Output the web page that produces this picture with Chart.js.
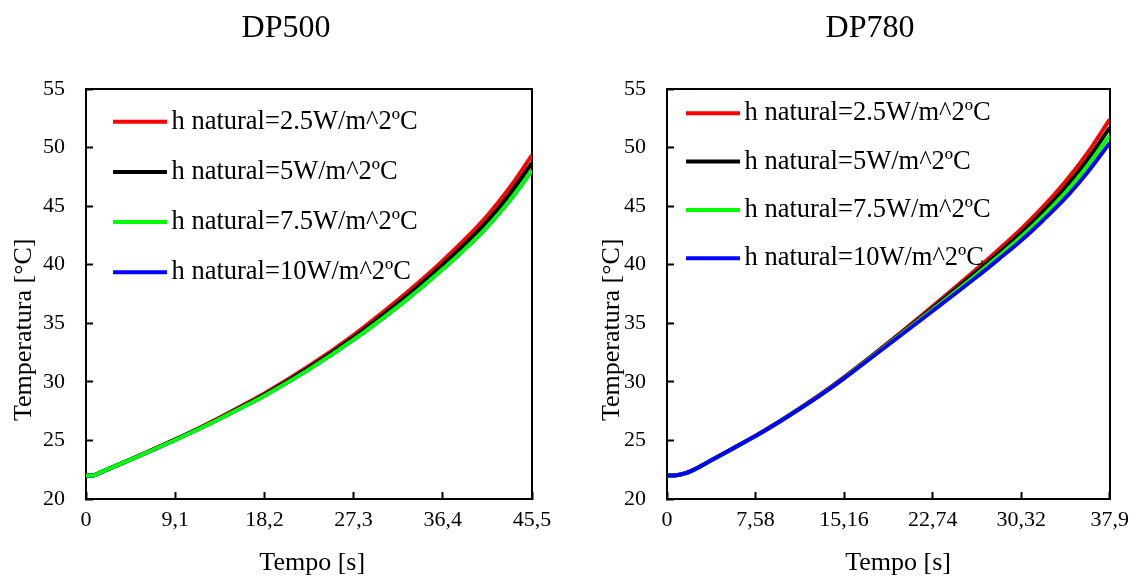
<!DOCTYPE html>
<html>
<head>
<meta charset="utf-8">
<script src="https://cdn.jsdelivr.net/npm/chart.js@4.4.0/dist/chart.umd.min.js"></script>
<style>
html,body{margin:0;padding:0;background:#fff;}
#wrap{position:relative;width:1144px;height:576px;overflow:hidden;background:#fff;}
.box{position:absolute;top:0;height:576px;}
canvas{display:block;}
</style>
</head>
<body>
<div id="wrap">
  <div class="box" style="left:0;width:572px"><canvas id="c1" width="572" height="576"></canvas></div>
  <div class="box" style="left:596px;width:548px"><canvas id="c2" width="548" height="576"></canvas></div>
</div>
<script>
// ---------- data ----------
const seriesLabels = [
  'h natural=2.5W/m^2ºC',
  'h natural=5W/m^2ºC',
  'h natural=7.5W/m^2ºC',
  'h natural=10W/m^2ºC'
];
const seriesColors = ['#ff0000', '#000000', '#00ff00', '#0000ff'];

const yTicks = [20, 25, 30, 35, 40, 45, 50, 55];
const yTickLabels = ['20', '25', '30', '35', '40', '45', '50', '55'];

// DP500
const dp500Time = [0, 0.7, 1.5, 2.5, 4.55, 6.8, 9.1, 11.4, 13.65, 15.9, 18.2, 22.75, 27.3, 31.85, 34.1, 36.4, 38.7, 40.95, 43.2, 45.5];
const dp500H25  = [22.0, 22.0, 22.28, 22.64, 23.38, 24.21, 25.09, 26.00, 26.95, 27.95, 29.00, 31.35, 34.00, 37.00, 38.60, 40.35, 42.20, 44.20, 46.55, 49.35];
const dp500H5   = [22.0, 22.0, 22.28, 22.64, 23.37, 24.20, 25.07, 25.97, 26.90, 27.88, 28.91, 31.21, 33.80, 36.73, 38.29, 39.99, 41.79, 43.73, 46.00, 48.70];
const dp500H75  = [22.0, 22.0, 22.28, 22.64, 23.36, 24.18, 25.04, 25.93, 26.85, 27.81, 28.82, 31.07, 33.60, 36.45, 37.97, 39.63, 41.37, 43.25, 45.45, 48.05];
const dp500H10  = [22.0, 22.0, 22.28, 22.64, 23.36, 24.18, 25.04, 25.93, 26.85, 27.81, 28.82, 31.07, 33.60, 36.45, 37.97, 39.63, 41.37, 43.25, 45.45, 48.05];
const dp500XTicks = [0, 9.1, 18.2, 27.3, 36.4, 45.5];
const dp500XTickLabels = ['0', '9,1', '18,2', '27,3', '36,4', '45,5'];

// DP780
const dp780Time = [0, 0.8, 1.6, 2.5, 3.79, 5.7, 7.58, 9.5, 11.37, 13.3, 15.16, 18.95, 22.74, 26.53, 28.4, 30.32, 32.2, 34.11, 36.0, 37.9];
const dp780H25  = [22.0, 22.02, 22.2, 22.6, 23.3, 24.35, 25.40, 26.55, 27.75, 29.05, 30.40, 33.35, 36.45, 39.65, 41.30, 43.05, 44.95, 47.10, 49.55, 52.40];
const dp780H5   = [22.0, 22.02, 22.2, 22.6, 23.3, 24.35, 25.39, 26.54, 27.73, 29.02, 30.37, 33.29, 36.31, 39.41, 41.01, 42.71, 44.55, 46.61, 48.97, 51.70];
const dp780H75  = [22.0, 22.02, 22.2, 22.6, 23.3, 24.34, 25.38, 26.52, 27.71, 29.00, 30.33, 33.23, 36.18, 39.19, 40.74, 42.38, 44.17, 46.15, 48.43, 51.04];
const dp780H10  = [22.0, 22.02, 22.2, 22.6, 23.3, 24.34, 25.37, 26.51, 27.69, 28.97, 30.30, 33.17, 36.05, 38.97, 40.48, 42.07, 43.80, 45.70, 47.90, 50.40];
const dp780XTicks = [0, 7.58, 15.16, 22.74, 30.32, 37.9];
const dp780XTickLabels = ['0', '7,58', '15,16', '22,74', '30,32', '37,9'];

// ---------- rendering ----------
const SERIF = '"Liberation Serif", "Times New Roman", "DejaVu Serif", serif';

const insideLegend = {
  id: 'insideLegend',
  afterDatasetsDraw(chart, args, o) {
    const {ctx, chartArea} = chart;
    ctx.save();
    ctx.font = o.fontSize + 'px ' + SERIF;
    ctx.textBaseline = 'middle';
    ctx.textAlign = 'left';
    chart.data.datasets.forEach((ds, i) => {
      const y = chartArea.top + o.y + i * o.spacing;
      const x0 = chartArea.left + o.x;
      ctx.strokeStyle = ds.borderColor;
      ctx.lineWidth = o.lineWidth;
      ctx.lineCap = 'butt';
      ctx.beginPath();
      ctx.moveTo(x0, y);
      ctx.lineTo(x0 + o.lineLength, y);
      ctx.stroke();
      ctx.fillStyle = '#000';
      ctx.fillText(ds.label, x0 + o.lineLength + o.gap, y);
    });
    ctx.restore();
  }
};

function makeChart(id, cfg) {
  const series = [cfg.h25, cfg.h5, cfg.h75, cfg.h10];
  return new Chart(document.getElementById(id), {
    type: 'line',
    data: {
      datasets: series.map((vals, k) => ({
        label: seriesLabels[k],
        data: cfg.time.map((t, i) => ({x: t, y: vals[i]})),
        borderColor: seriesColors[k],
        backgroundColor: seriesColors[k],
        borderWidth: 4,
        pointRadius: 0,
        fill: false,
        cubicInterpolationMode: 'monotone',
        order: cfg.order[k]
      }))
    },
    options: {
      responsive: false,
      animation: false,
      events: [],
      layout: {padding: 0},
      plugins: {
        legend: {display: false},
        tooltip: {enabled: false},
        title: {
          display: true,
          text: cfg.title,
          color: '#000',
          font: {family: SERIF, size: 32, weight: 'normal', lineHeight: 1.2},
          padding: {top: 9, bottom: 41.6}
        },
        insideLegend: cfg.legend
      },
      scales: {
        x: {
          type: 'linear',
          position: 'bottom',
          min: 0,
          max: cfg.xTicks[cfg.xTicks.length - 1],
          afterBuildTicks: s => { s.ticks = cfg.xTicks.map(v => ({value: v})); },
          afterFit: s => { s.height = 77; },
          ticks: {
            autoSkip: false, maxRotation: 0, padding: 15, color: '#000',
            font: {family: SERIF, size: 22},
            callback: (v, i) => cfg.xTickLabels[i]
          },
          grid: {display: true, drawOnChartArea: false, drawTicks: true, tickLength: -7, tickWidth: 2, tickColor: '#000', color: '#000'},
          border: {display: true, color: '#000', width: 2},
          title: {display: true, text: cfg.xTitle, color: '#000', font: {family: SERIF, size: 26}, padding: {top: 0, bottom: -3}}
        },
        y: {
          type: 'linear',
          position: 'left',
          min: 20,
          max: 55,
          afterBuildTicks: s => { s.ticks = yTicks.map(v => ({value: v})); },
          afterFit: s => { s.width = cfg.yWidth; },
          ticks: {
            padding: 28, color: '#000',
            font: {family: SERIF, size: 22},
            callback: (v, i) => yTickLabels[i]
          },
          grid: {display: true, drawOnChartArea: false, drawTicks: true, tickLength: -7, tickWidth: 2, tickColor: '#000', color: '#000'},
          border: {display: true, color: '#000', width: 2},
          title: {display: true, text: 'Temperatura [°C]           ', color: '#000', font: {family: SERIF, size: 26}, padding: {top: cfg.yTitlePad, bottom: 0}}
        },
        x2: {
          type: 'linear', position: 'top', min: 0, max: 1,
          ticks: {display: false},
          grid: {display: false, drawTicks: false},
          border: {display: true, color: '#000', width: 2}
        },
        y2: {
          type: 'linear', position: 'right', min: 0, max: 1,
          afterFit: s => { s.width = cfg.padRight; },
          ticks: {display: false},
          grid: {display: false, drawTicks: false},
          border: {display: true, color: '#000', width: 2}
        }
      }
    },
    plugins: [insideLegend]
  });
}

makeChart('c1', {
  title: 'DP500',
  xTitle: ' Tempo [s]',
  time: dp500Time, h25: dp500H25, h5: dp500H5, h75: dp500H75, h10: dp500H10,
  xTicks: dp500XTicks, xTickLabels: dp500XTickLabels,
  order: [3, 2, 0, 1],
  padRight: 40, yWidth: 86, yTitlePad: 9,
  legend: {x: 27, y: 32.7, spacing: 50.2, lineLength: 54, gap: 4.5, lineWidth: 4, fontSize: 26.5}
});

makeChart('c2', {
  title: 'DP780',
  xTitle: '   Tempo [s]',
  time: dp780Time, h25: dp780H25, h5: dp780H5, h75: dp780H75, h10: dp780H10,
  xTicks: dp780XTicks, xTickLabels: dp780XTickLabels,
  order: [3, 2, 1, 0],
  padRight: 27, yWidth: 71, yTitlePad: 1,
  legend: {x: 19, y: 24.3, spacing: 48.3, lineLength: 54, gap: 4.5, lineWidth: 4, fontSize: 26.5}
});
</script>
</body>
</html>
